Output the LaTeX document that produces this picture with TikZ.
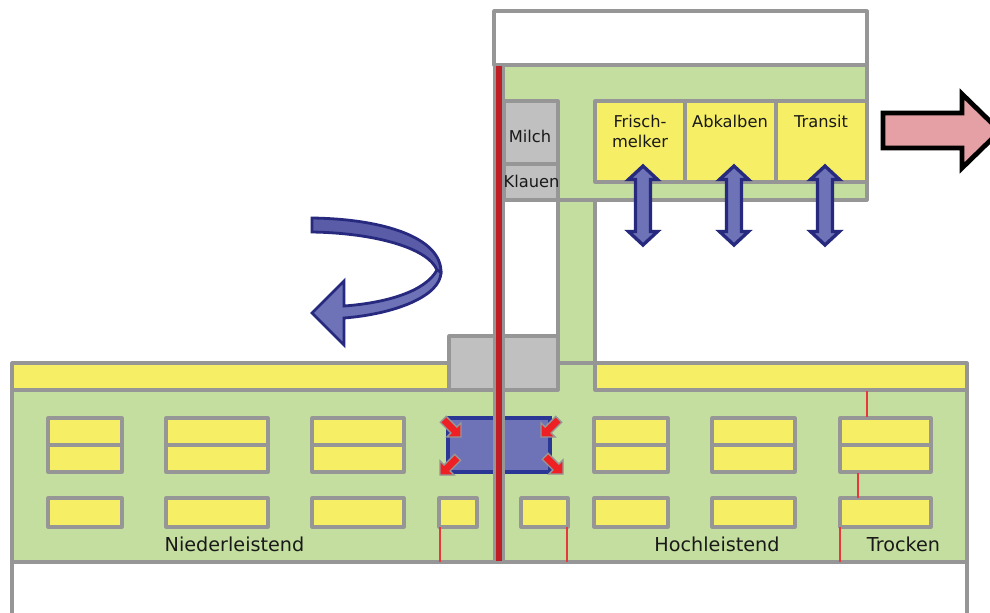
\documentclass[tikz,border=0pt]{standalone}
\usepackage{fontspec}
\setmainfont{DejaVu Sans}
\definecolor{gr}{HTML}{969696}
\definecolor{grn}{HTML}{C3DE9E}
\definecolor{yel}{HTML}{F6EE64}
\definecolor{lgr}{HTML}{C0C0C0}
\definecolor{rd}{HTML}{BE1E24}
\definecolor{blu}{HTML}{6E72B6}
\definecolor{blud}{HTML}{5A5CA8}
\definecolor{bluo}{HTML}{26297E}
\definecolor{boxblue}{HTML}{2B3795}
\definecolor{pnk}{HTML}{E4A0A4}
\definecolor{finered}{HTML}{E8383C}
\definecolor{brightred}{HTML}{EE2024}
\tikzset{
  x=0.75pt,y=-0.75pt,
  wall/.style={draw=gr,line width=2.3pt,line join=round},
  penbox/.style={wall,fill=yel},
  room/.style={wall,fill=lgr},
  thinred/.style={draw=finered,line width=1pt},
  lab/.style={inner sep=0pt,font=\fontsize{12.2}{15}\selectfont,text=black!90,align=center},
  biglab/.style={inner sep=0pt,font=\fontsize{14.4}{17}\selectfont,text=black!90},
  dbl/.style={draw=bluo,fill=blu,line width=2.5pt,line join=miter},
  squeeze/.style={draw=gr,fill=brightred,line width=1pt,line join=miter}
}
\newcommand{\penpair}[2]{
  \draw[penbox] (#1,418) rectangle (#2,472);
  \draw[wall] (#1,445) -- (#2,445);
  \draw[penbox] (#1,498) rectangle (#2,527);
}
\newcommand{\dblarrow}[1]{
  \draw[dbl] (#1,166) -- ++(14.5,13.5) -- ++(-7,0) -- ++(0,52) -- ++(7,0) -- ++(-14.5,13.5) -- ++(-14.5,-13.5) -- ++(7,0) -- ++(0,-52) -- ++(-7,0) -- cycle;
}
\newcommand{\squeezearrow}[3]{
  \begin{scope}[shift={(#1,#2)},rotate=#3]
    \draw[squeeze] (0,0) -- (-10,-10) -- (-10,-4.2) -- (-25,-4.2) -- (-25,4.2) -- (-10,4.2) -- (-10,10) -- cycle;
  \end{scope}
}
\begin{document}
\begin{tikzpicture}
\useasboundingbox (0,0) rectangle (990,612);
\clip (0,0) rectangle (990,612);
% upper building
\draw[wall,fill=white] (494,11) rectangle (867,65);
\fill[grn] (494,65) rectangle (867,200);
\fill[grn] (558,200) rectangle (595,363);
% lower building
\fill[grn] (12,363) rectangle (967,562);
\draw[penbox] (12,363) rectangle (449,390);
\draw[penbox] (595,363) rectangle (967,390);
\draw[wall] (12,363) -- (12,562) -- (967,562) -- (967,363);
\draw[wall,fill=white] (12,614) -- (12,562) -- (967,562) -- (967,614);
\draw[wall] (558,363) -- (595,363);
% outline upper
\draw[wall] (494,65) -- (867,65) -- (867,200) -- (504,200);
\draw[wall] (595,200) -- (595,390);
\draw[wall] (558,200) -- (558,336);
% gathering
\draw[room] (449,336) rectangle (558,390);
% pens row
\penpair{48}{122}
\penpair{166}{268}
\penpair{312}{404}
\penpair{594}{668}
\penpair{712}{795}
\penpair{840}{931}
\draw[penbox] (439,498) rectangle (477,527);
\draw[penbox] (521,498) rectangle (568,527);
% rooms
\draw[room] (504,101) rectangle (558,164);
\draw[room] (504,164) rectangle (558,200);
\draw[penbox] (595,101) rectangle (685,182);
\draw[penbox] (685,101) rectangle (776,182);
\draw[penbox] (776,101) rectangle (867,182);
% blue box
\draw[draw=boxblue,fill=blu,line width=2.6pt] (448,418) rectangle (550,472);
% central wall
\fill[gr] (493,65) rectangle (505,562);
\fill[rd] (495.5,66) rectangle (502,561);
% thin red
\coordinate (a1) at (867,391); \coordinate (a2) at (867,417);
\coordinate (b1) at (858,473); \coordinate (b2) at (858,498);
\coordinate (c1) at (840,527); \coordinate (c2) at (840,562);
\coordinate (d1) at (440,527); \coordinate (d2) at (440,562);
\coordinate (e1) at (567,527); \coordinate (e2) at (567,562);
\draw[thinred] (a1) -- (a2);
\draw[thinred] (b1) -- (b2);
\draw[thinred] (c1) -- (c2);
\draw[thinred] (d1) -- (d2);
\draw[thinred] (e1) -- (e2);
% squeeze arrows
\squeezearrow{461}{437}{-45}
\squeezearrow{541}{437}{-135}
\squeezearrow{440}{475}{-135}
\squeezearrow{563}{474}{-45}
% double arrows
\dblarrow{643}
\dblarrow{734}
\dblarrow{825}
% pink arrow
\draw[draw=black,fill=pnk,line width=3.6pt,line join=miter] (883,113) -- (962,113) -- (962,94) -- (1000,131) -- (962,168) -- (962,148) -- (883,148) -- cycle;
% curved arrow
\draw[draw=bluo,fill=blu,line width=2.1pt,line join=miter] (437,270) .. controls (425,292) and (385,303) .. (344,306) -- (344,281) -- (312,313) -- (344,345) -- (344,318) .. controls (395,314) and (441,296) .. (441,272) -- cycle;
\draw[draw=bluo,fill=blud,line width=2.1pt,line join=miter] (312,218) .. controls (385,219) and (441,238) .. (441,272) -- (437,270) .. controls (428,248) and (375,233) .. (312,232) -- cycle;
% labels
\node[lab] (milch) at (530,136.5) {Milch};
\node[lab] (klauen) at (531.5,181.5) {Klauen};
\node[lab] (frisch) at (640,131) {Frisch-\\melker};
\node[lab,anchor=north] (abk) at (730,114.5) {Abkalben};
\node[lab,anchor=north] (trans) at (821,114.5) {Transit};
\node[biglab] (nied) at (234.5,544) {Niederleistend};
\node[biglab] (hoch) at (717,544) {Hochleistend};
\node[biglab] (trock) at (903.5,544) {Trocken};
\end{tikzpicture}
\end{document}
